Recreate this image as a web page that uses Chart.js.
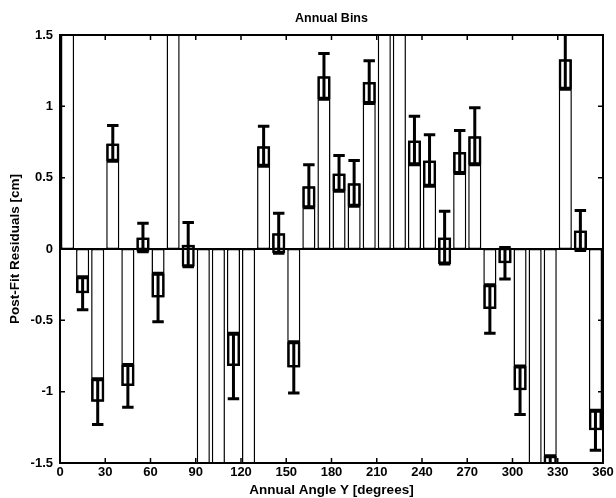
<!DOCTYPE html>
<html>
<head>
<meta charset="utf-8">
<title>Annual Bins</title>
<script src="https://cdn.jsdelivr.net/npm/chart.js@4.4.0/dist/chart.umd.min.js"></script>
<style>
  html, body { margin: 0; padding: 0; background: #fff; }
  #wrap { width: 616px; height: 498px; }
</style>
</head>
<body>
<div id="wrap"><canvas id="chart" width="616" height="498"></canvas></div>
<script>
// bin centres (degrees)
const binCenters = [5, 15, 25, 35, 45, 55, 65, 75, 85, 95, 105, 115, 125, 135, 145, 155, 165, 175,
  185, 195, 205, 215, 225, 235, 245, 255, 265, 275, 285, 295, 305, 315, 325, 335, 345, 355];

// mean post-fit residual per bin (cm); +/-2 are bins running off the axis
const residuals = [2.0, -0.31, -1.07, 0.74, -0.96, 0.08, -0.34, 2.0, 0.03, -2.0, -2.0, -0.82, -2.0,
  0.72, 0.11, -0.83, 0.44, 1.21, 0.53, 0.46, 1.17, 2.0, 2.0, 0.76, 0.62, 0.08, 0.68, 0.79,
  -0.42, -0.10, -0.99, -2.0, -1.58, 1.33, 0.13, -1.27];

// one-sigma error per bin (cm)
const sigmas = [null, 0.115, 0.16, 0.125, 0.15, 0.10, 0.17, null, 0.155, null, null, 0.23, null,
  0.14, 0.14, 0.18, 0.15, 0.16, 0.125, 0.16, 0.15, null, null, 0.17, 0.18, 0.185, 0.15, 0.20,
  0.17, 0.11, 0.17, null, 0.13, 0.21, 0.14, 0.14];

const xTicks = [0, 30, 60, 90, 120, 150, 180, 210, 240, 270, 300, 330, 360];
const yTicks = [-1.5, -1, -0.5, 0, 0.5, 1, 1.5];

const FONT = "'Liberation Sans', Arial, Helvetica, sans-serif";

// bar values and the inner box (sigma on the side of the bar towards zero)
const barData = binCenters.map((x, i) => ({ x, y: residuals[i] }));
const boxData = binCenters.map((x, i) => {
  const v = residuals[i], s = sigmas[i];
  if (s === null) return { x, y: null };
  return { x, y: v >= 0 ? [v - s, v] : [v, v + s] };
});

// whiskers, baseline, frame and inward ticks
const matlabAxes = {
  id: 'matlabAxes',
  afterDatasetsDraw(chart) {
    const { ctx, chartArea: a, scales } = chart;
    const xs = scales.x, ys = scales.y;
    const capHalf = xs.getPixelForValue(3.8) - xs.getPixelForValue(0);

    ctx.save();
    ctx.beginPath();
    ctx.rect(a.left, a.top, a.right - a.left, a.bottom - a.top);
    ctx.clip();
    ctx.strokeStyle = '#000';
    ctx.lineWidth = 3;
    binCenters.forEach((c, i) => {
      const s = sigmas[i];
      if (s === null) return;
      const px = xs.getPixelForValue(c);
      const yLo = ys.getPixelForValue(residuals[i] - s);
      const yHi = ys.getPixelForValue(residuals[i] + s);
      ctx.beginPath();
      ctx.moveTo(px, yLo); ctx.lineTo(px, yHi);
      ctx.moveTo(px - capHalf, yLo); ctx.lineTo(px + capHalf, yLo);
      ctx.moveTo(px - capHalf, yHi); ctx.lineTo(px + capHalf, yHi);
      ctx.stroke();
    });
    // baseline
    const y0 = ys.getPixelForValue(0);
    ctx.lineWidth = 2;
    ctx.beginPath();
    ctx.moveTo(a.left, y0); ctx.lineTo(a.right, y0);
    ctx.stroke();
    ctx.restore();

    ctx.save();
    ctx.strokeStyle = '#000';
    ctx.lineWidth = 2;
    ctx.strokeRect(a.left, a.top, a.right - a.left, a.bottom - a.top);
    ctx.lineWidth = 1.5;
    ctx.beginPath();
    xTicks.forEach(t => {
      const px = xs.getPixelForValue(t);
      ctx.moveTo(px, a.bottom); ctx.lineTo(px, a.bottom - 5);
      ctx.moveTo(px, a.top); ctx.lineTo(px, a.top + 5);
    });
    yTicks.forEach(t => {
      const py = ys.getPixelForValue(t);
      ctx.moveTo(a.left, py); ctx.lineTo(a.left + 5, py);
      ctx.moveTo(a.right, py); ctx.lineTo(a.right - 5, py);
    });
    ctx.stroke();
    ctx.restore();
  }
};

new Chart(document.getElementById('chart'), {
  type: 'bar',
  data: {
    datasets: [
      {
        label: 'Residual',
        data: barData,
        backgroundColor: '#fff',
        borderColor: '#000',
        borderWidth: 1.5,
        borderSkipped: false,
        grouped: false,
        barPercentage: 0.87,
        categoryPercentage: 1,
        order: 2
      },
      {
        label: 'Sigma box',
        data: boxData,
        backgroundColor: 'rgba(0,0,0,0)',
        borderColor: '#000',
        borderWidth: 2.5,
        borderSkipped: false,
        grouped: false,
        barPercentage: 0.87,
        categoryPercentage: 1,
        order: 1
      }
    ]
  },
  options: {
    responsive: false,
    animation: false,
    layout: { padding: { left: 0, right: 13, top: 0, bottom: 0 } },
    plugins: {
      legend: { display: false },
      tooltip: { enabled: false },
      title: {
        display: true,
        text: 'Annual Bins',
        fullSize: false,
        color: '#000',
        font: { family: FONT, size: 12.5, weight: 'bold' },
        padding: { top: 11, bottom: 9 }
      }
    },
    scales: {
      x: {
        type: 'linear',
        min: 0,
        max: 360,
        offset: false,
        grid: { display: false, drawTicks: false },
        border: { display: false },
        afterFit(scale) { scale.height = 35; },
        afterBuildTicks(scale) { scale.ticks = xTicks.map(v => ({ value: v })); },
        ticks: {
          color: '#000',
          padding: 2,
          maxRotation: 0,
          font: { family: FONT, size: 13, weight: 'bold' }
        },
        title: {
          display: true,
          text: 'Annual Angle Y [degrees]',
          color: '#000',
          font: { family: FONT, size: 13.5, weight: 'bold' },
          padding: { top: 0, bottom: 0 }
        }
      },
      y: {
        min: -1.5,
        max: 1.5,
        grid: { display: false, drawTicks: false },
        border: { display: false },
        afterFit(scale) { scale.width = 60; },
        afterBuildTicks(scale) { scale.ticks = yTicks.map(v => ({ value: v })); },
        ticks: {
          color: '#000',
          padding: 7,
          font: { family: FONT, size: 13, weight: 'bold' },
          callback: v => String(v)
        },
        title: {
          display: true,
          text: 'Post-Fit Residuals [cm]',
          color: '#000',
          font: { family: FONT, size: 13.5, weight: 'bold' },
          padding: { top: 7, bottom: 0 }
        }
      }
    }
  },
  plugins: [matlabAxes]
});
</script>
</body>
</html>
